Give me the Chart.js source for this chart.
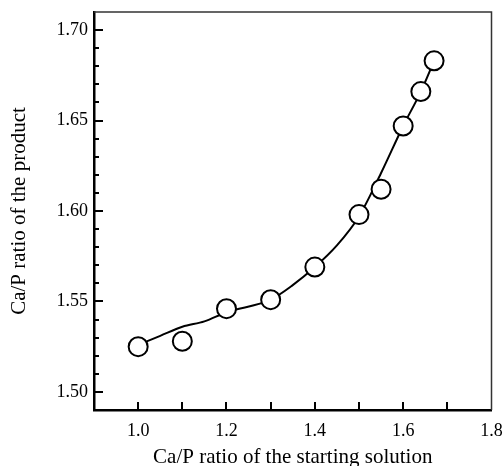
<!DOCTYPE html>
<html lang="en">
<head>
<meta charset="UTF-8">
<title>Ca/P ratio</title>
<script src="https://cdn.jsdelivr.net/npm/chart.js"></script>
<style>
  html, body { margin: 0; padding: 0; background: #fff; }
  #wrap { width: 503px; height: 466px; }
</style>
</head>
<body>
<div id="wrap"><canvas id="caChart" width="503" height="466"></canvas></div>
<script>
// measured points
const solutionRatio = [1.0, 1.1, 1.2, 1.3, 1.4, 1.5, 1.55, 1.6, 1.64, 1.67];
const productRatio = [1.525, 1.528, 1.546, 1.551, 1.569, 1.598, 1.612, 1.647, 1.666, 1.683];

// smooth trend line drawn behind the circles
const trendX = [1.0, 1.05, 1.1, 1.15, 1.2, 1.3, 1.35, 1.4, 1.45, 1.5, 1.55, 1.6, 1.64, 1.67];
const trendY = [1.526, 1.531, 1.536, 1.539, 1.544, 1.551, 1.559, 1.569, 1.581, 1.597, 1.621, 1.647, 1.666, 1.683];

const xTickLabels = ['1.0', '1.2', '1.4', '1.6', '1.8'];
const yTickLabels = ['1.50', '1.55', '1.60', '1.65', '1.70'];

const serif = "'Liberation Serif', 'Times New Roman', serif";

// ticks pointing into the plot plus the thin top/right frame
const frameTicks = {
  id: 'frameTicks',
  afterDraw(chart) {
    const { ctx, chartArea: a, scales } = chart;
    ctx.save();
    ctx.strokeStyle = '#333';
    ctx.lineWidth = 1.5;
    ctx.beginPath();
    ctx.moveTo(a.left, a.top);
    ctx.lineTo(a.right, a.top);
    ctx.lineTo(a.right, a.bottom);
    ctx.stroke();

    ctx.strokeStyle = '#000';
    ctx.lineWidth = 2;
    ctx.beginPath();
    scales.x.ticks.forEach(t => {
      if (t.value <= scales.x.min + 1e-6 || t.value >= scales.x.max - 1e-6) return;
      const px = Math.round(scales.x.getPixelForValue(t.value));
      ctx.moveTo(px, a.bottom);
      ctx.lineTo(px, a.bottom - 8);
    });
    scales.y.ticks.forEach(t => {
      if (t.value <= scales.y.min + 1e-6 || t.value >= scales.y.max - 1e-6) return;
      const py = Math.round(scales.y.getPixelForValue(t.value));
      const major = yTickLabels.includes(t.value.toFixed(2));
      ctx.moveTo(a.left, py);
      ctx.lineTo(a.left + (major ? 9 : 5), py);
    });
    ctx.stroke();
    ctx.restore();
  }
};

new Chart(document.getElementById('caChart'), {
  type: 'scatter',
  data: {
    datasets: [
      {
        label: 'measured',
        data: solutionRatio.map((x, i) => ({ x: x, y: productRatio[i] })),
        pointRadius: 9.5,
        pointBorderWidth: 2,
        pointBorderColor: '#000',
        pointBackgroundColor: '#fff',
        order: 0
      },
      {
        label: 'trend',
        data: trendX.map((x, i) => ({ x: x, y: trendY[i] })),
        showLine: true,
        cubicInterpolationMode: 'monotone',
        borderColor: '#000',
        borderWidth: 2,
        pointRadius: 0,
        order: 1
      }
    ]
  },
  options: {
    responsive: false,
    animation: false,
    layout: { padding: { left: 0, top: 12, right: 9, bottom: 0 } },
    plugins: { legend: { display: false }, tooltip: { enabled: false } },
    scales: {
      x: {
        type: 'linear',
        min: 0.9,
        max: 1.8,
        grid: { display: false, drawTicks: false },
        border: { display: true, color: '#000', width: 2.5 },
        ticks: {
          stepSize: 0.1,
          padding: 10,
          color: '#000',
          maxRotation: 0,
          autoSkip: false,
          font: { family: serif, size: 18 },
          callback: v => {
            const s = v.toFixed(1);
            return xTickLabels.includes(s) ? s : '';
          }
        },
        title: {
          display: true,
          text: 'Ca/P ratio of the starting solution',
          color: '#000',
          font: { family: serif, size: 21, lineHeight: 1 },
          padding: { top: 0, bottom: -2 }
        },
        afterFit: s => { s.height = 56; s.paddingLeft = 0; s.paddingRight = 0; }
      },
      y: {
        type: 'linear',
        min: 1.49,
        max: 1.71,
        grid: { display: false, drawTicks: false },
        border: { display: true, color: '#000', width: 2.5 },
        ticks: {
          stepSize: 0.01,
          padding: 6,
          color: '#000',
          autoSkip: false,
          font: { family: serif, size: 18 },
          callback: v => {
            const s = v.toFixed(2);
            return yTickLabels.includes(s) ? s : '';
          }
        },
        title: {
          display: true,
          text: 'Ca/P ratio of the product',
          color: '#000',
          font: { family: serif, size: 21, lineHeight: 1 },
          padding: { top: 9, bottom: 0 }
        },
        afterFit: s => { s.width = 94; s.paddingTop = 0; s.paddingBottom = 0; }
      }
    }
  },
  plugins: [frameTicks]
});
</script>
</body>
</html>
